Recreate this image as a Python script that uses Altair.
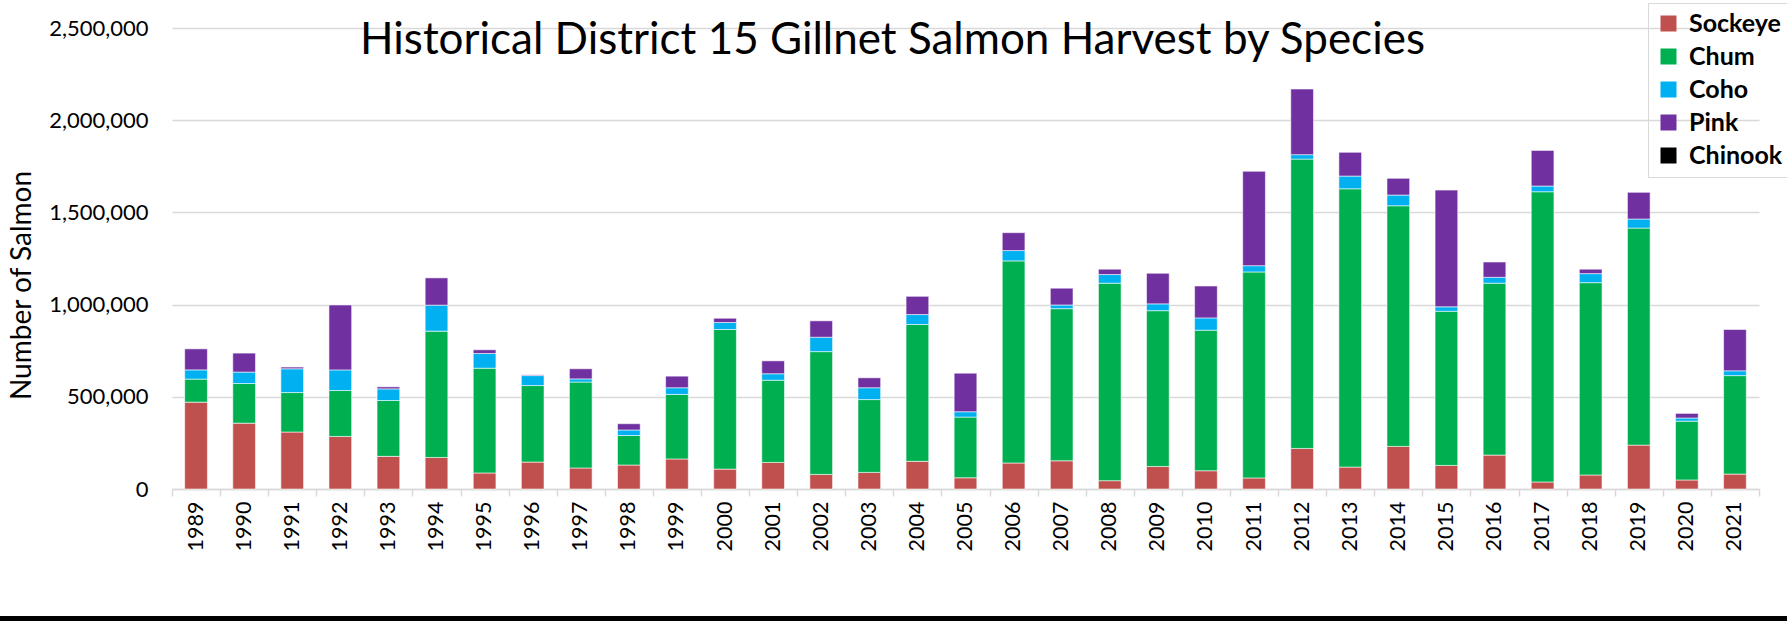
import altair as alt
import pandas as pd

# Harvest counts per season (number of fish), District 15 gillnet fishery
years = ["1989", "1990", "1991", "1992", "1993", "1994", "1995", "1996", "1997", "1998",
         "1999", "2000", "2001", "2002", "2003", "2004", "2005", "2006", "2007", "2008",
         "2009", "2010", "2011", "2012", "2013", "2014", "2015", "2016", "2017", "2018",
         "2019", "2020", "2021"]

sockeye = [471000, 357000, 309000, 285000, 177000, 171000, 87000, 146000, 114000, 130000,
           163000, 108000, 144000, 79000, 90000, 150000, 61000, 141000, 153000, 45000,
           122000, 99000, 60000, 220000, 119000, 231000, 128000, 184000, 38000, 76000,
           238000, 49000, 81000]

chum = [125000, 215000, 214000, 249000, 303000, 685000, 568000, 415000, 466000, 160000,
        350000, 757000, 446000, 666000, 395000, 742000, 329000, 1096000, 825000, 1071000,
        845000, 762000, 1117000, 1569000, 1509000, 1305000, 836000, 932000, 1574000, 1043000,
        1177000, 319000, 534000]

coho = [50000, 62000, 129000, 112000, 63000, 141000, 80000, 54000, 17000, 30000,
        36000, 38000, 35000, 78000, 64000, 54000, 29000, 56000, 20000, 47000,
        37000, 67000, 34000, 24000, 69000, 58000, 24000, 32000, 31000, 49000,
        49000, 17000, 26000]

pink = [114000, 103000, 9000, 352000, 11000, 148000, 20000, 4000, 55000, 34000,
        63000, 23000, 70000, 89000, 54000, 99000, 209000, 97000, 91000, 29000,
        166000, 173000, 512000, 356000, 129000, 91000, 633000, 83000, 193000, 24000,
        145000, 25000, 224000]

species = ["Sockeye", "Chum", "Coho", "Pink", "Chinook"]
colors = ["#C0504D", "#00B050", "#00B0F0", "#7030A0", "#000000"]
y_ticks = [0, 500000, 1000000, 1500000, 2000000, 2500000]

series = [("Sockeye", sockeye), ("Chum", chum), ("Coho", coho), ("Pink", pink)]
rows = []
for i, yr in enumerate(years):
    for k, (name, vals) in enumerate(series):
        rows.append({"Year": yr, "Species": name, "Fish": vals[i], "stack": k})
df = pd.DataFrame(rows)

FONT = "Lato"
GRID = "#d9d9d9"
W, H = 1587, 461

bars = alt.Chart(df).mark_bar(
    width=alt.RelativeBandSize(0.472),
    stroke="white", strokeWidth=0.8, strokeOpacity=0.7,
).encode(
    x=alt.X("Year:N", sort=None,
            scale=alt.Scale(paddingInner=0, paddingOuter=0),
            axis=alt.Axis(title=None, labelAngle=270, labelFont=FONT, labelFontSize=21.5,
                          labelColor="black", labelPadding=5, tickBand="extent",
                          tickSize=7, tickColor=GRID, tickWidth=1.5,
                          domainColor=GRID, domainWidth=1.5, grid=False)),
    y=alt.Y("Fish:Q", stack="zero",
            scale=alt.Scale(domain=[0, 2500000], nice=False),
            axis=alt.Axis(title="Number of Salmon", values=y_ticks, format=",d",
                          labelFont=FONT, labelFontSize=22, labelColor="black",
                          labelPadding=24, domain=False, ticks=False,
                          gridColor=GRID, gridWidth=1.5,
                          titleFont=FONT, titleFontSize=28, titleFontWeight="normal",
                          titleColor="black", titleAngle=270, titleX=-150, titleY=257,
                          titleAlign="center", titleBaseline="middle")),
    color=alt.Color("Species:N",
                    scale=alt.Scale(domain=species, range=colors),
                    legend=alt.Legend(title=None, orient="none", legendX=1476, legendY=-25,
                                      direction="vertical", symbolType="square",
                                      symbolSize=256, symbolStrokeWidth=0,
                                      labelFont=FONT, labelFontSize=25,
                                      labelFontWeight="bold", labelColor="black",
                                      labelOffset=8, rowPadding=7, padding=8,
                                      strokeColor=GRID)),
    order=alt.Order("stack:Q", sort="ascending"),
)

# dark strip along the bottom edge of the figure
edge = alt.Chart(pd.DataFrame({"edge": [0]})).mark_rule(color="black", strokeWidth=5).encode(
    x=alt.value(-172), x2=alt.value(1615), y=alt.value(590.5)
)

chart = alt.layer(bars, edge).properties(
    width=W, height=H,
    padding={"left": 172, "top": 28, "right": 28, "bottom": 132},
    autosize=alt.AutoSizeParams(type="none"),
    title=alt.TitleParams("Historical District 15 Gillnet Salmon Harvest by Species",
                          font=FONT, fontSize=44, fontWeight="normal", color="black",
                          anchor="middle", frame="group", dx=-73, dy=64),
).configure_view(stroke=None)

chart.save("out.html", embed_options={"renderer": "svg", "actions": False})
